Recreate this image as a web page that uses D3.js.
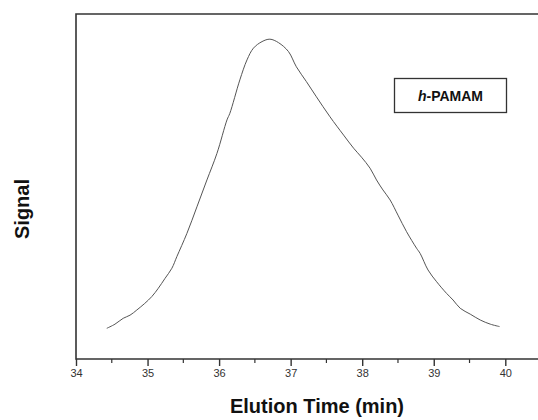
<!DOCTYPE html>
<html>
<head>
<meta charset="utf-8">
<script src="https://cdn.jsdelivr.net/npm/d3@7"></script>
<style>
  body { margin: 0; background: #fff; }
  svg text { font-family: "Liberation Sans", Arial, sans-serif; }
</style>
</head>
<body>
<div id="chart"></div>
<script>
// elution time (min) and detector signal (arbitrary units, 0-100)
var times = [34.43, 34.545, 34.66, 34.755, 34.85, 34.96, 35.06, 35.15, 35.245, 35.34,
             35.41, 35.55, 35.69, 35.83, 35.97, 36.11, 36.15, 36.29, 36.39, 36.48,
             36.6, 36.71, 36.83, 36.97, 37.08, 37.22, 37.36, 37.55, 37.74, 37.88,
             37.99, 38.11, 38.2, 38.29, 38.39, 38.5, 38.62, 38.76, 38.81, 38.92,
             39.04, 39.18, 39.27, 39.37, 39.51, 39.65, 39.79, 39.92];
var signal = [8.9, 10.1, 11.8, 12.7, 14.2, 16.1, 18.1, 20.5, 23.4, 26.3,
              29.7, 36.4, 44.1, 51.9, 59.6, 69.3, 71.2, 80.9, 86.7, 90.1,
              92.0, 92.7, 91.7, 89.1, 84.7, 80.4, 76.0, 70.2, 64.9, 61.1,
              58.5, 55.3, 51.9, 49.0, 46.1, 41.7, 36.9, 32.1, 30.6, 25.8,
              22.4, 19.0, 17.1, 14.7, 13.0, 11.3, 10.1, 9.4];
var xTicks = [34, 35, 36, 37, 38, 39, 40];
var xMinor = [34.5, 35.5, 36.5, 37.5, 38.5, 39.5, 40.5];
var legendLabel = "PAMAM";

var width = 538, height = 420;
var plotLeft = 76, plotTop = 14, plotBottom = 359;

var svg = d3.select("#chart").append("svg")
    .attr("width", width)
    .attr("height", height);

var x = d3.scaleLinear().domain([34, 40]).range([plotLeft, 505.3]);
var y = d3.scaleLinear().domain([0, 100]).range([plotBottom, plotTop]);

// frame (right side runs off the picture)
svg.append("path")
    .attr("d", "M" + (width + 2) + "," + plotTop + "H" + plotLeft + "V" + plotBottom + "H" + (width + 2))
    .attr("fill", "none")
    .attr("stroke", "#333")
    .attr("stroke-width", 1.6);

// x axis ticks
var xAxis = d3.axisBottom(x).tickValues(xTicks).tickFormat(d3.format("d")).tickSize(7).tickPadding(3);
var gx = svg.append("g").attr("transform", "translate(0," + plotBottom + ")").call(xAxis);
gx.select(".domain").remove();
gx.selectAll(".tick line").attr("stroke", "#333").attr("stroke-width", 1.4);
gx.selectAll(".tick text")
    .attr("font-size", 11)
    .attr("fill", "#333")
    .attr("font-family", "Liberation Sans, Arial, sans-serif");

svg.append("g").selectAll("line")
    .data(xMinor)
    .enter().append("line")
    .attr("x1", function(d) { return x(d); })
    .attr("x2", function(d) { return x(d); })
    .attr("y1", plotBottom)
    .attr("y2", plotBottom + 4)
    .attr("stroke", "#333")
    .attr("stroke-width", 1.2);

// signal trace
var pts = times.map(function(t, i) { return [t, signal[i]]; });
var line = d3.line()
    .x(function(d) { return x(d[0]); })
    .y(function(d) { return y(d[1]); })
    .curve(d3.curveCatmullRom);

svg.append("path")
    .datum(pts)
    .attr("d", line)
    .attr("fill", "none")
    .attr("stroke", "#555")
    .attr("stroke-width", 1);

// legend box
svg.append("rect")
    .attr("x", 394.5).attr("y", 78.5)
    .attr("width", 112).attr("height", 34)
    .attr("fill", "#fff")
    .attr("stroke", "#333")
    .attr("stroke-width", 1.3);

var lt = svg.append("text")
    .attr("x", 450.5).attr("y", 101)
    .attr("text-anchor", "middle")
    .attr("font-size", 14)
    .attr("font-weight", "bold")
    .attr("fill", "#111");
lt.append("tspan").attr("font-style", "italic").text("h");
lt.append("tspan").text("-" + legendLabel);

// axis titles
svg.append("text")
    .attr("x", 317).attr("y", 413)
    .attr("text-anchor", "middle")
    .attr("font-size", 20)
    .attr("font-weight", "bold")
    .attr("fill", "#111")
    .text("Elution Time (min)");

svg.append("text")
    .attr("transform", "translate(29,209) rotate(-90)")
    .attr("text-anchor", "middle")
    .attr("font-size", 20)
    .attr("font-weight", "bold")
    .attr("fill", "#111")
    .text("Signal");
</script>
</body>
</html>
